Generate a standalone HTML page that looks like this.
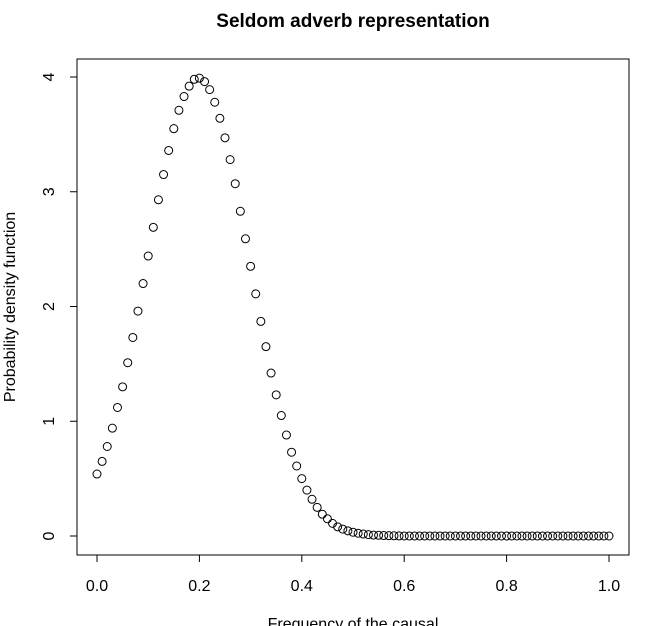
<!DOCTYPE html>
<html><head><meta charset="utf-8"><style>
body{margin:0;background:#fff}
svg{display:block;font-family:"Liberation Sans",sans-serif}
</style></head><body>
<svg id="chart" width="661" height="626" viewBox="0 0 661 626">
<text x="353" y="27" text-anchor="middle" font-size="19" font-weight="bold">Seldom adverb representation</text>
<rect x="77" y="59" width="552" height="496" fill="none" stroke="#000" stroke-width="1"/>
<text x="353" y="629" text-anchor="middle" font-size="16">Frequency of the causal</text>
<text transform="translate(15,307) rotate(-90)" text-anchor="middle" font-size="16">Probability density function</text>
<g id="axes"></g>
<g id="points"></g>
</svg>
<script>
const xTicks=[0,0.2,0.4,0.6,0.8,1.0];
const xTickLabels=["0.0","0.2","0.4","0.6","0.8","1.0"];
const yTicks=[0,1,2,3,4];
const yTickLabels=["0","1","2","3","4"];
const densityValues=[0.54,0.65,0.78,0.94,1.12,1.30,1.51,1.73,1.96,2.20,2.44,2.69,2.93,3.15,3.36,3.55,3.71,3.83,3.92,3.98,3.99,3.96,3.89,3.78,3.64,3.47,3.28,3.07,2.83,2.59,2.35,2.11,1.87,1.65,1.42,1.23,1.05,0.88,0.73,0.61,0.50,0.40,0.32,0.25,0.19,0.15,0.11,0.08,0.06,0.045,0.033,0.024,0.017,0.012,0.008,0.006,0.004,0.003,0.002,0.001,0,0,0,0,0,0,0,0,0,0,0,0,0,0,0,0,0,0,0,0,0,0,0,0,0,0,0,0,0,0,0,0,0,0,0,0,0,0,0,0,0];
const frequencies=densityValues.map((_, i)=>i/100);
const ns="http://www.w3.org/2000/svg";
function sx(v){return 97+v*(609-97);}
function sy(v){return 536-v*(536-77)/4;}
const axes=document.getElementById('axes');
const pts=document.getElementById('points');
function mk(tag,attrs,parent){const e=document.createElementNS(ns,tag);for(const k in attrs)e.setAttribute(k,attrs[k]);parent.appendChild(e);return e;}
const xl=mk('line',{x1:sx(0),x2:sx(1),y1:555,y2:555,stroke:'#000'},axes);


xTicks.forEach((t,i)=>{
  const l=mk('line',{x1:sx(t),x2:sx(t),y1:555,y2:562,stroke:'#000'},axes);
  
  
  const tx=mk('text',{x:sx(t),y:591,'text-anchor':'middle','font-size':'16'},axes);
  tx.textContent=xTickLabels[i];
  
  
});
const yl=mk('line',{x1:77,x2:77,y1:sy(0),y2:sy(4),stroke:'#000'},axes);


yTicks.forEach((t,i)=>{
  const l=mk('line',{x1:70,x2:77,y1:sy(t),y2:sy(t),stroke:'#000'},axes);
  
  
  const tx=mk('text',{transform:`translate(54,${sy(t)}) rotate(-90)`,'text-anchor':'middle','font-size':'16'},axes);
  tx.textContent=yTickLabels[i];
  
  
});
densityValues.forEach((v,i)=>{
  const c=mk('circle',{cx:sx(frequencies[i]),cy:sy(v),r:4,fill:'none',stroke:'#000','stroke-width':1},pts);
  
  
});
</script>
</body></html>
